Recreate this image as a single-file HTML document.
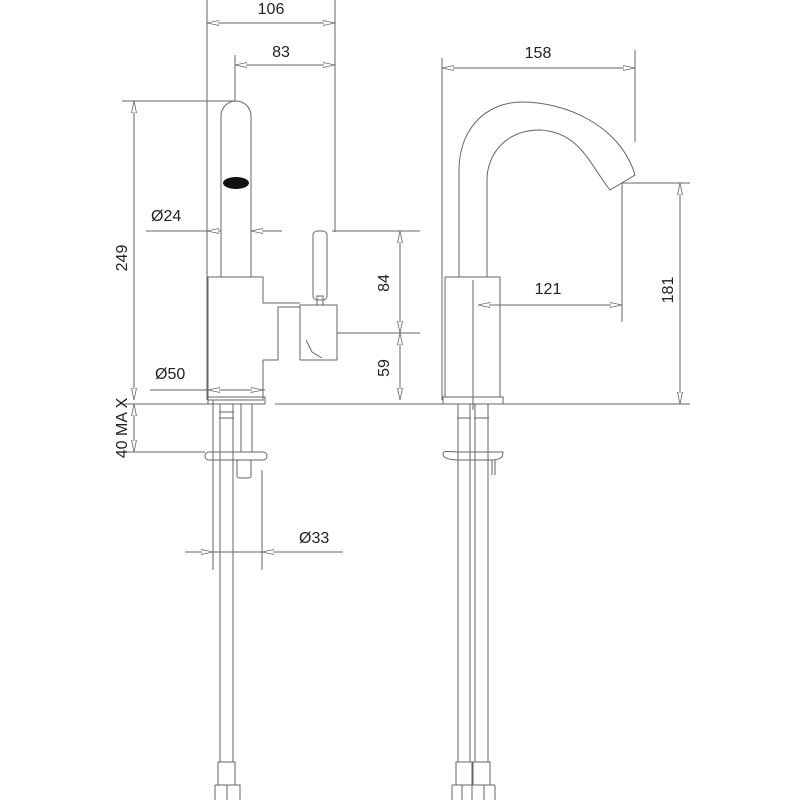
<!DOCTYPE html>
<html><head><style>html,body{margin:0;padding:0;background:#fff}svg{display:block}</style></head>
<body>
<svg width="800" height="800" viewBox="0 0 800 800" xmlns="http://www.w3.org/2000/svg">
<defs>
<marker id="a" viewBox="0 0 12 6" refX="12" refY="3" markerWidth="12" markerHeight="6" orient="auto-start-reverse" markerUnits="userSpaceOnUse">
<path d="M0,0.5 L12,3 L0,5.5 Z" fill="#fff" stroke="#666" stroke-width="0.8"/></marker>
</defs>
<g fill="none" stroke="#666" stroke-width="1">
<!-- LEFT VIEW dims -->
<line x1="207" y1="0" x2="207" y2="400"/>
<line x1="335" y1="0" x2="335" y2="232"/>
<line x1="207" y1="23" x2="335" y2="23" marker-start="url(#a)" marker-end="url(#a)"/>
<line x1="235" y1="55" x2="235" y2="101"/>
<line x1="235" y1="65" x2="335" y2="65" marker-start="url(#a)" marker-end="url(#a)"/>
<line x1="122" y1="101" x2="235" y2="101"/>
<line x1="134" y1="101" x2="134" y2="400" marker-start="url(#a)" marker-end="url(#a)"/>
<line x1="146" y1="231" x2="207" y2="231"/>
<line x1="207" y1="231" x2="221" y2="231" marker-start="url(#a)"/>
<line x1="251" y1="231" x2="282" y2="231"/>
<line x1="251" y1="231" x2="265" y2="231" marker-start="url(#a)"/>
<line x1="332" y1="231" x2="420" y2="231"/>
<line x1="337" y1="333" x2="420" y2="333"/>
<line x1="400" y1="231" x2="400" y2="333" marker-start="url(#a)" marker-end="url(#a)"/>
<line x1="400" y1="333" x2="400" y2="400" marker-start="url(#a)" marker-end="url(#a)"/>
<line x1="150" y1="390" x2="265" y2="390"/>
<line x1="208" y1="390" x2="263" y2="390" marker-start="url(#a)" marker-end="url(#a)"/>
<line x1="120" y1="404" x2="265" y2="404"/>
<line x1="275" y1="404" x2="690" y2="404"/>
<line x1="134" y1="404" x2="134" y2="452" marker-start="url(#a)" marker-end="url(#a)"/>
<line x1="122" y1="452" x2="205" y2="452"/>
<line x1="213" y1="400" x2="213" y2="570"/>
<line x1="262" y1="470" x2="262" y2="570"/>
<line x1="185" y1="552" x2="343" y2="552"/>
<line x1="198" y1="552" x2="213" y2="552" marker-end="url(#a)"/>
<line x1="277" y1="552" x2="262" y2="552" marker-end="url(#a)"/>
<!-- LEFT faucet -->
<path d="M221,277 L221,116 A15,15 0 0 1 251,116 L251,277"/>
<ellipse cx="236" cy="183" rx="13" ry="6" fill="#111" stroke="none"/>
<path d="M208,400 L208,277 L263,277 L263,303 L300,303 M263,360 L263,400 L208,400"/>
<path d="M263,360 L278,360 L278,307 L300,307"/>
<rect x="300" y="305" width="37" height="55"/>
<path d="M306,340 L312,352 L322,358"/>
<rect x="313" y="231" width="14" height="69" rx="4"/>
<rect x="317" y="296" width="6" height="9"/>
<rect x="208" y="397" width="57" height="7"/>
<rect x="205" y="452" width="62" height="8" rx="4"/>
<path d="M220,404 L220,762 M233,404 L233,762"/>
<path d="M219,412 L234,412 M219,418 L234,418"/>
<path d="M241,404 L241,452 M252,404 L252,452"/>
<rect x="237" y="460" width="14" height="18" rx="2"/>
<path d="M218,762 L235,762 L235,785 L218,785 Z"/>
<path d="M215,785 L240,785 L240,800 M215,785 L215,800 M227,785 L227,800"/>
<!-- RIGHT VIEW dims -->
<line x1="442" y1="58" x2="442" y2="400"/>
<line x1="635" y1="50" x2="635" y2="142"/>
<line x1="442" y1="68" x2="635" y2="68" marker-start="url(#a)" marker-end="url(#a)"/>
<line x1="622" y1="183" x2="690" y2="183"/>
<line x1="622" y1="183" x2="622" y2="322"/>
<line x1="478" y1="305" x2="622" y2="305" marker-start="url(#a)" marker-end="url(#a)"/>
<line x1="680" y1="183" x2="680" y2="404" marker-start="url(#a)" marker-end="url(#a)"/>
<!-- RIGHT faucet -->
<path d="M459,277 L459,170 C459,130 485,102 522,102 C565,102 620,125 635,175 L610,190 C590,165 580,132 540,130 C505,130 487,155 487,180 L487,277"/>
<rect x="445" y="277" width="55" height="120"/>
<rect x="443" y="397" width="60" height="7"/>
<line x1="473" y1="280" x2="473" y2="410"/>
<path d="M443,454 C443,450 448,452 460,452 L503,452 C503,458 500,460 490,460 L460,460 C448,460 443,458 443,454"/>
<path d="M458,404 L458,762 M470,404 L470,762 M475,404 L475,762 M488,404 L488,762"/>
<path d="M457,418 L471,418 M474,418 L489,418"/>
<path d="M492,460 L492,475 M495,460 L495,475"/>
<path d="M456,762 L472,762 L472,785 L456,785 Z M473,762 L490,762 L490,785 L473,785 Z"/>
<path d="M452,785 L472,785 M473,785 L495,785 M452,785 L452,800 M472,785 L472,800 M495,785 L495,800 M462,785 L462,800 M484,785 L484,800"/>
</g>
<g font-family="Liberation Sans, sans-serif" font-size="16" fill="#222">
<text x="271" y="14" text-anchor="middle">106</text>
<text x="281" y="57" text-anchor="middle">83</text>
<text x="538" y="58" text-anchor="middle">158</text>
<text x="548" y="294" text-anchor="middle">121</text>
<text x="151" y="221">Ø24</text>
<text x="155" y="379">Ø50</text>
<text x="299" y="543">Ø33</text>
<text transform="translate(127,258) rotate(-90)" text-anchor="middle">249</text>
<text transform="translate(127,428) rotate(-90)" text-anchor="middle">40 MA X</text>
<text transform="translate(389,283) rotate(-90)" text-anchor="middle">84</text>
<text transform="translate(389,368) rotate(-90)" text-anchor="middle">59</text>
<text transform="translate(673,290) rotate(-90)" text-anchor="middle">181</text>
</g>
</svg>
</body></html>
